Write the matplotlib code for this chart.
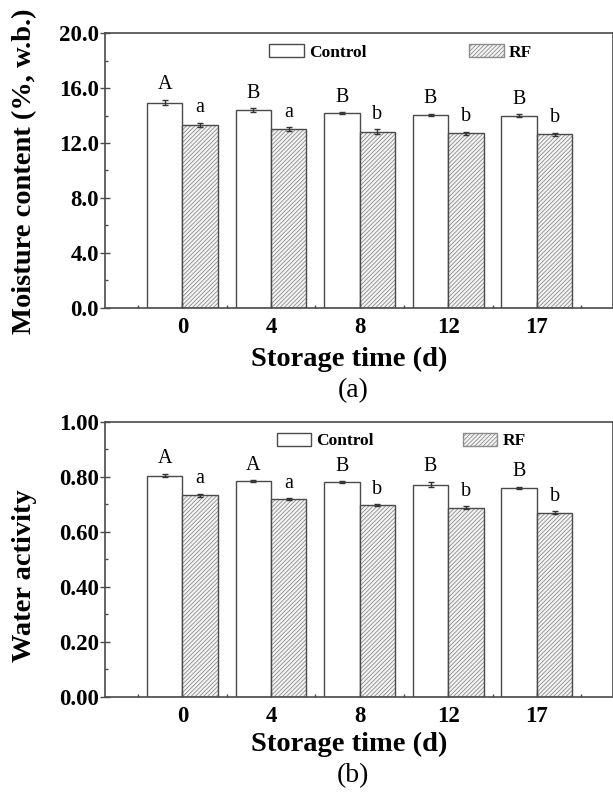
import matplotlib
matplotlib.use("Agg")
from matplotlib import pyplot as plt
from matplotlib.patches import Patch
from matplotlib.ticker import MultipleLocator, FormatStrFormatter, FixedLocator
import numpy as np

plt.rcParams['font.family'] = ['Liberation Serif', 'DejaVu Serif']
plt.rcParams['hatch.linewidth'] = 0.6

days = ['0', '4', '8', '12', '17']

# moisture content (%, w.b.)
mc_control = [14.94, 14.41, 14.17, 14.05, 13.99]
mc_control_err = [0.20, 0.12, 0.08, 0.10, 0.10]
mc_rf = [13.34, 13.00, 12.81, 12.71, 12.64]
mc_rf_err = [0.15, 0.15, 0.18, 0.10, 0.10]
mc_control_letters = ['A', 'B', 'B', 'B', 'B']
mc_rf_letters = ['a', 'a', 'b', 'b', 'b']

# water activity
aw_control = [0.804, 0.783, 0.781, 0.771, 0.760]
aw_control_err = [0.006, 0.004, 0.003, 0.010, 0.004]
aw_rf = [0.732, 0.718, 0.696, 0.687, 0.669]
aw_rf_err = [0.006, 0.004, 0.003, 0.005, 0.006]
aw_control_letters = ['A', 'A', 'B', 'B', 'B']
aw_rf_letters = ['a', 'a', 'b', 'b', 'b']

EDGE = '#4a4a4a'
HATCH = '#8c8c8c'
HATCH_PAT = '////////'
W = 0.40


def draw_panel(ax, ctrl, ctrl_err, rf, rf_err, ctrl_lab, rf_lab, ymax, ystep, fmt):
    x = np.arange(1, len(days) + 1)
    xc = x - W / 2
    xr = x + W / 2

    ax.bar(xc, ctrl, W, color='white', edgecolor=EDGE, linewidth=1.0)
    # hatch layer then outline, so the hatch stays lighter than the edge
    ax.bar(xr, rf, W, color='#f4f4f4', edgecolor=HATCH, hatch=HATCH_PAT, linewidth=0)
    ax.bar(xr, rf, W, fill=False, edgecolor=EDGE, linewidth=1.0)

    ax.errorbar(xc, ctrl, yerr=ctrl_err, fmt='none', ecolor='#333333',
                elinewidth=1.0, capsize=2, capthick=1.0)
    ax.errorbar(xr, rf, yerr=rf_err, fmt='none', ecolor='#333333',
                elinewidth=1.0, capsize=2, capthick=1.0)

    for xi, v, e, t in zip(xc, ctrl, ctrl_err, ctrl_lab):
        ax.annotate(t, (xi, v + e), xytext=(0, 4), textcoords='offset points',
                    ha='center', va='bottom', fontsize=14.5)
    for xi, v, e, t in zip(xr, rf, rf_err, rf_lab):
        ax.annotate(t, (xi, v + e), xytext=(0, 4), textcoords='offset points',
                    ha='center', va='bottom', fontsize=14.5)

    ax.set_xlim(0.126, 5.855)
    ax.set_ylim(0, ymax)
    ax.set_xticks(x)
    ax.set_xticklabels(days)
    ax.xaxis.set_minor_locator(FixedLocator(np.arange(0.5, 6.0, 1.0)))
    ax.yaxis.set_major_locator(MultipleLocator(ystep))
    ax.yaxis.set_minor_locator(MultipleLocator(ystep / 2))
    ax.yaxis.set_major_formatter(FormatStrFormatter(fmt))

    for s in ax.spines.values():
        s.set_color(EDGE)
        s.set_linewidth(1.2)
    ax.tick_params(axis='y', which='major', direction='inout', length=6.5,
                   width=1.0, color=EDGE, pad=1)
    ax.tick_params(axis='y', which='minor', direction='in', length=2.5,
                   width=1.0, color=EDGE)
    ax.tick_params(axis='x', which='major', direction='in', length=4,
                   width=1.0, color=EDGE, pad=7)
    ax.tick_params(axis='x', which='minor', direction='in', length=2,
                   width=1.0, color=EDGE)
    for lab in ax.get_xticklabels() + ax.get_yticklabels():
        lab.set_fontweight('bold')
        lab.set_fontsize(16.5)


def add_legend(ax, x0, colspace):
    handles = [Patch(facecolor='white', edgecolor=EDGE, linewidth=1.0),
               Patch(facecolor='#f4f4f4', edgecolor=HATCH, hatch=HATCH_PAT, linewidth=1.0)]
    ax.legend(handles, ['Control', 'RF'], ncol=2, loc='center left',
              bbox_to_anchor=(x0, 0.93), frameon=False, borderpad=0,
              borderaxespad=0, handlelength=2.0, handleheight=0.8,
              handletextpad=0.3, columnspacing=colspace,
              prop={'weight': 'bold', 'size': 12.5})


fig = plt.figure(figsize=(6.13, 7.93), dpi=100)
ax1 = fig.add_axes([0.1713, 0.612, 0.828, 0.346])
ax2 = fig.add_axes([0.1713, 0.1214, 0.828, 0.3468])

draw_panel(ax1, mc_control, mc_control_err, mc_rf, mc_rf_err,
           mc_control_letters, mc_rf_letters, 20.0, 4.0, '%.1f')
draw_panel(ax2, aw_control, aw_control_err, aw_rf, aw_rf_err,
           aw_control_letters, aw_rf_letters, 1.0, 0.2, '%.2f')

add_legend(ax1, 0.323, 5.9)
add_legend(ax2, 0.338, 5.1)

ax1.set_ylabel('Moisture content (%, w.b.)', fontsize=20.5, fontweight='bold')
ax1.yaxis.set_label_coords(-0.158, 0.496)
ax1.set_xlabel('Storage time (d)', fontsize=20.5, fontweight='bold')
ax1.xaxis.set_label_coords(0.482, -0.19)
ax1.xaxis.label.set_verticalalignment('center')

ax2.set_ylabel('Water activity', fontsize=20.5, fontweight='bold')
ax2.yaxis.set_label_coords(-0.158, 0.439)
ax2.set_xlabel('Storage time (d)', fontsize=20.5, fontweight='bold')
ax2.xaxis.set_label_coords(0.482, -0.172)
ax2.xaxis.label.set_verticalalignment('center')
ax1.yaxis.label.set_verticalalignment('center')
ax2.yaxis.label.set_verticalalignment('center')

fig.text(0.576, 0.508, '(a)', fontsize=20, ha='center', va='center')
fig.text(0.576, 0.0218, '(b)', fontsize=20, ha='center', va='center')

fig.savefig('out.png', dpi=100)
